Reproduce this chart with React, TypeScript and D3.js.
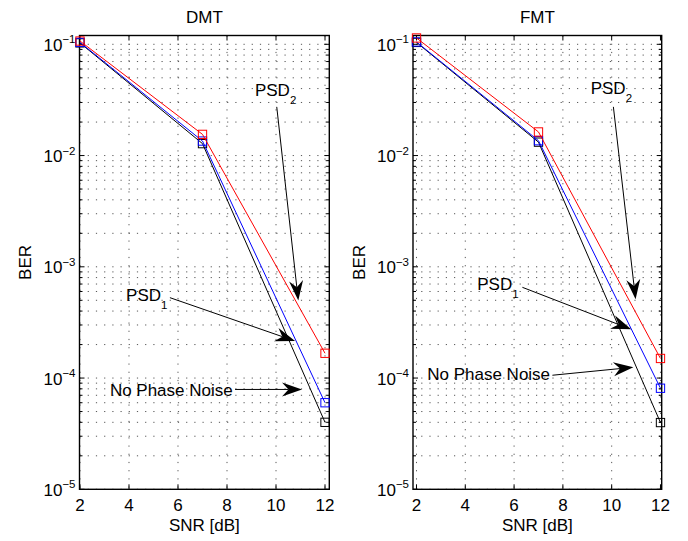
import React from 'react';
import * as d3 from 'd3';

// ---------- data ----------
const snr = [2, 7, 12];
const dmtNoPN = [0.103, 0.0128, 4.0e-5];
const dmtPSD1 = [0.104, 0.0135, 6.0e-5];
const dmtPSD2 = [0.107, 0.0155, 1.67e-4];
const fmtNoPN = [0.104, 0.0132, 3.98e-5];
const fmtPSD1 = [0.105, 0.0136, 8.1e-5];
const fmtPSD2 = [0.114, 0.0163, 1.5e-4];
const xTicks = [2, 4, 6, 8, 10, 12];
const yExponents = [-5, -4, -3, -2, -1];
const panelTitles = ['DMT', 'FMT'];
const xLabel = 'SNR [dB]';
const yLabel = 'BER';

// annotations in data coordinates: [label, subscript, textX, textY, fromX, fromY, toX, toY]
const dmtNotes: [string, string, number, number, number, number, number, number][] = [
  ['PSD', '2', 9.14, 0.0346, 10.03, 0.0274, 10.91, 4.97e-4],
  ['PSD', '1', 3.88, 4.97e-4, 5.67, 5.28e-4, 10.78, 2.15e-4],
  ['No Phase Noise', '', 3.22, 6.87e-5, 8.33, 7.9e-5, 11.06, 7.9e-5],
];
const fmtNotes: [string, string, number, number, number, number, number, number][] = [
  ['PSD', '2', 9.14, 0.0356, 10.07, 0.0274, 10.98, 5.1e-4],
  ['PSD', '1', 4.49, 6.25e-4, 6.34, 6.54e-4, 10.8, 2.74e-4],
  ['No Phase Noise', '', 2.44, 9.7e-5, 7.57, 1.06e-4, 10.89, 1.25e-4],
];

// ---------- layout ----------
const W = 688;
const H = 541;
const FONT = '"Liberation Sans", Arial, Helvetica, sans-serif';
const yDomain: [number, number] = [1e-5, 0.12];
const yRange: [number, number] = [489.3, 35.5];

type Panel = {
  title: string;
  box: [number, number];
  xDomain: [number, number];
  series: { values: number[]; color: string }[];
  notes: typeof dmtNotes;
  yLabelX: number;
};

const panels: Panel[] = [
  {
    title: panelTitles[0],
    box: [79.5, 329.3],
    xDomain: [1.98, 12.175],
    series: [
      { values: dmtNoPN, color: '#000000' },
      { values: dmtPSD1, color: '#0000ff' },
      { values: dmtPSD2, color: '#ff0000' },
    ],
    notes: dmtNotes,
    yLabelX: 30.5,
  },
  {
    title: panelTitles[1],
    box: [413, 661.7],
    xDomain: [1.857, 12.05],
    series: [
      { values: fmtNoPN, color: '#000000' },
      { values: fmtPSD1, color: '#0000ff' },
      { values: fmtPSD2, color: '#ff0000' },
    ],
    notes: fmtNotes,
    yLabelX: 364.5,
  },
];

function minorValues(): number[] {
  const out: number[] = [];
  for (let e = -5; e <= 0; e++) {
    for (let m = 2; m <= 9; m++) {
      const v = m * Math.pow(10, e);
      if (v > yDomain[0] && v < yDomain[1]) out.push(v);
    }
  }
  return out;
}

function Arrow({ x1, y1, x2, y2 }: { x1: number; y1: number; x2: number; y2: number }) {
  const ang = Math.atan2(y2 - y1, x2 - x1);
  const L = 20;
  const Wd = 7;
  const notch = 13.5;
  const c = Math.cos(ang);
  const s = Math.sin(ang);
  const pt = (dx: number, dy: number) => [x2 + dx * c - dy * s, y2 + dx * s + dy * c];
  const a = pt(-L, Wd);
  const b = pt(-notch, 0);
  const d = pt(-L, -Wd);
  return (
    <g>
      <line x1={x1} y1={y1} x2={b[0]} y2={b[1]} stroke="#000" strokeWidth={1} />
      <path d={`M${x2},${y2}L${a[0]},${a[1]}L${b[0]},${b[1]}L${d[0]},${d[1]}Z`} fill="#000" />
    </g>
  );
}

function PanelView({ p }: { p: Panel }) {
  const x = d3.scaleLinear().domain(p.xDomain).range(p.box);
  const y = d3.scaleLog().domain(yDomain).range(yRange);
  const [left, right] = p.box;
  const top = yRange[1];
  const bottom = yRange[0];
  const majors = yExponents.map((e) => Math.pow(10, e));
  const minors = minorValues();
  const line = d3
    .line<[number, number]>()
    .x((d) => x(d[0]))
    .y((d) => y(d[1]));
  const grid = { stroke: '#444', strokeWidth: 0.9, strokeDasharray: '1.2,7' };
  const cx = (left + right) / 2;
  const ms = 8.3;
  return (
    <g fontFamily={FONT}>
      {/* grid */}
      {xTicks.map((t) => (
        <line key={'gx' + t} x1={x(t)} x2={x(t)} y1={top} y2={bottom} {...grid} />
      ))}
      {[...majors, ...minors].map((v, i) => (
        <line key={'gy' + i} x1={left} x2={right} y1={y(v)} y2={y(v)} {...grid} />
      ))}
      {/* ticks */}
      {xTicks.map((t) => (
        <g key={'tx' + t}>
          <line x1={x(t)} x2={x(t)} y1={bottom} y2={bottom - 5} stroke="#000" />
          <line x1={x(t)} x2={x(t)} y1={top} y2={top + 5} stroke="#000" />
          <text x={x(t)} y={511} textAnchor="middle" fontSize={17}>
            {t}
          </text>
        </g>
      ))}
      {majors.map((v, i) => (
        <g key={'ty' + i}>
          <line x1={left} x2={left + 5} y1={y(v)} y2={y(v)} stroke="#000" />
          <line x1={right} x2={right - 5} y1={y(v)} y2={y(v)} stroke="#000" />
          <text x={left - 4} y={y(v) + 6.5} textAnchor="end" fontSize={17}>
            10
            <tspan dy={-7.5} fontSize={11.5}>
              {'\u2212' + Math.abs(yExponents[i])}
            </tspan>
          </text>
        </g>
      ))}
      {minors.map((v, i) => (
        <g key={'tm' + i}>
          <line x1={left} x2={left + 3} y1={y(v)} y2={y(v)} stroke="#000" />
          <line x1={right} x2={right - 3} y1={y(v)} y2={y(v)} stroke="#000" />
        </g>
      ))}
      {/* box */}
      <rect x={left} y={top} width={right - left} height={bottom - top} fill="none" stroke="#000" strokeWidth={1.4} />
      {/* series */}
      {p.series.map((s, k) => {
        const pts = snr.map((xv, i) => [xv, s.values[i]] as [number, number]);
        return (
          <g key={'s' + k}>
            <path d={line(pts) || ''} fill="none" stroke={s.color} strokeWidth={1} />
            {pts.map((d, i) => (
              <rect
                key={i}
                x={x(d[0]) - ms / 2}
                y={y(d[1]) - ms / 2}
                width={ms}
                height={ms}
                fill="none"
                stroke={s.color}
                strokeWidth={1}
              />
            ))}
          </g>
        );
      })}
      {/* annotations */}
      {p.notes.map((n, i) => (
        <g key={'n' + i}>
          <Arrow x1={x(n[4])} y1={y(n[5])} x2={x(n[6])} y2={y(n[7])} />
          <text x={x(n[2])} y={y(n[3])} fontSize={17}>
            {n[0]}
            {n[1] ? (
              <tspan dy={8} fontSize={11.5}>
                {n[1]}
              </tspan>
            ) : null}
          </text>
        </g>
      ))}
      {/* labels */}
      <text x={cx} y={22.5} textAnchor="middle" fontSize={17}>
        {p.title}
      </text>
      <text x={cx} y={531} textAnchor="middle" fontSize={17}>
        {xLabel}
      </text>
      <text
        transform={`translate(${p.yLabelX},${(top + bottom) / 2}) rotate(-90)`}
        textAnchor="middle"
        fontSize={17}
      >
        {yLabel}
      </text>
    </g>
  );
}

export default function App() {
  return (
    <svg
      width={W}
      height={H}
      viewBox={`0 0 ${W} ${H}`}
      style={{ position: 'absolute', left: 0, top: 0, background: '#fff' }}
    >
      <rect x={0} y={0} width={W} height={H} fill="#fff" />
      {panels.map((p, i) => (
        <PanelView key={i} p={p} />
      ))}
    </svg>
  );
}
